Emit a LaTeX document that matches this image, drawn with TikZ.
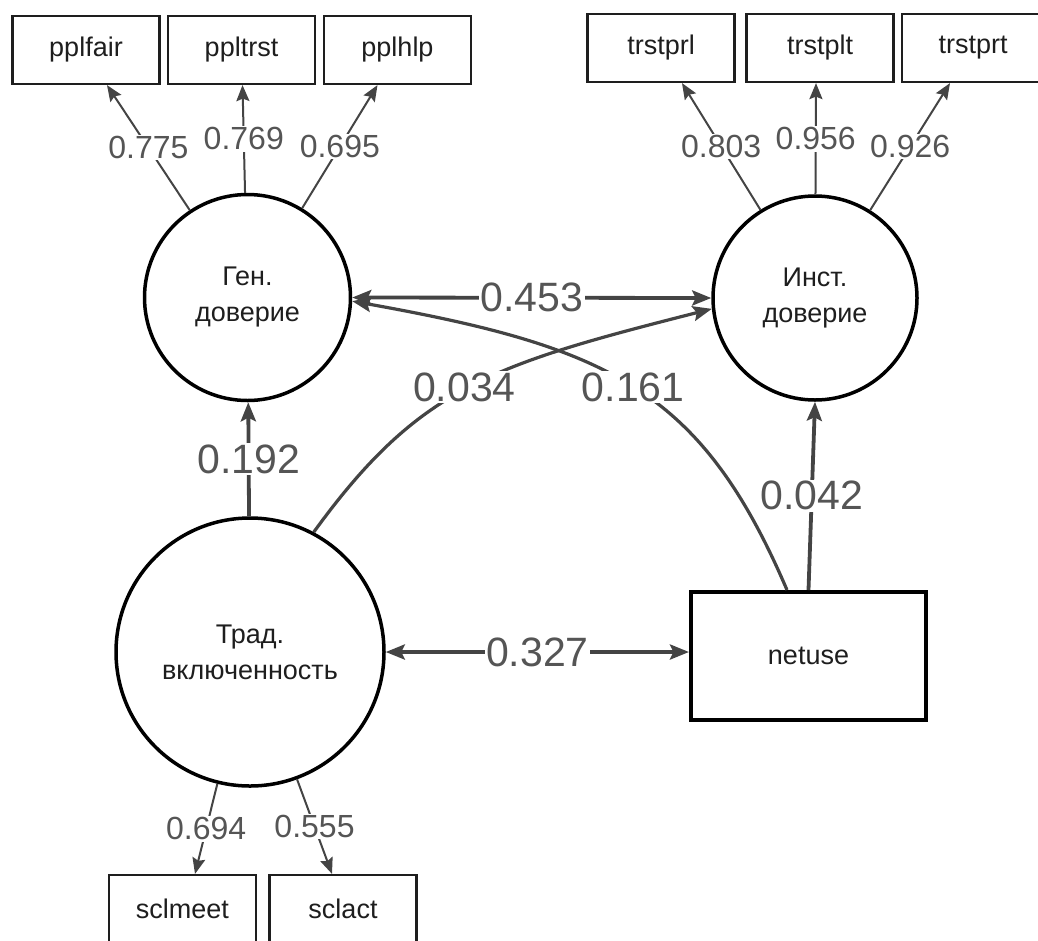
\documentclass[tikz,border=0pt]{standalone}
\usepackage{fontspec}
\setmainfont{Liberation Sans}
\usetikzlibrary{arrows.meta,calc}
\definecolor{lc}{HTML}{444444}
\definecolor{tc}{HTML}{555555}
\definecolor{bc}{HTML}{1e1e1e}
\begin{document}
\begin{tikzpicture}[x=1pt,y=-1pt,
  lat/.style={circle,draw=black,line width=3.5pt,inner sep=0pt,align=center,text=bc,font=\fontsize{27}{36}\selectfont},
  obs/.style={rectangle,draw=bc,line width=2.2pt,minimum width=147pt,minimum height=68pt,inner sep=0pt,text=bc,font=\fontsize{27}{30}\selectfont},
  ld/.style={draw=lc,line width=2pt,-{Stealth[length=16pt,width=13pt,inset=2.5pt]}},
  sp/.style={draw=lc,line width=3.8pt,-{Stealth[length=19pt,width=15pt,inset=3.5pt]}},
  bp/.style={draw=lc,line width=3.8pt,{Stealth[length=19pt,width=15pt,inset=3.5pt]}-{Stealth[length=19pt,width=15pt,inset=3.5pt]}},
  ll/.style={fill=white,text=tc,inner sep=1.5pt,font=\fontsize{32}{32}\selectfont},
  sl/.style={fill=white,text=tc,inner sep=1.5pt,font=\fontsize{41}{41}\selectfont},
]
\clip (0,0) rectangle (1038,940);
% observed indicators
\node[obs] (pplfair) at (86,50) {pplfair};
\node[obs] (ppltrst) at (241.5,50) {ppltrst};
\node[obs] (pplhlp) at (397.5,50) {pplhlp};
\node[obs] (trstprl) at (661,48) {trstprl};
\node[obs] (trstplt) at (820,48) {trstplt};
\node[obs,minimum width=142pt] (trstprt) at (973,48) {trstprt};
\node[obs] (sclmeet) at (182.5,909) {sclmeet};
\node[obs] (sclact) at (343,909) {sclact};
% latent variables
\node[lat,minimum size=206pt] (gen) at (247.5,297.5) {Ген.\\доверие};
\node[lat,minimum size=204pt] (inst) at (815,298) {Инст.\\доверие};
\node[lat,minimum size=268pt] (trad) at (250,652) {Трад.\\включенность};
\node[obs,draw=black,line width=4pt,minimum width=235pt,minimum height=128pt] (netuse) at (808.5,656) {netuse};
% loadings
\draw[ld] (gen) -- node[ll]{0.775} ([xshift=21pt]pplfair.south);
\draw[ld] (gen) -- node[ll]{0.769} ([xshift=1pt]ppltrst.south);
\draw[ld] (gen) -- node[ll]{0.695} ([xshift=-20pt]pplhlp.south);
\draw[ld] (inst) -- node[ll]{0.803} ([xshift=21pt]trstprl.south);
\draw[ld] (inst) -- node[ll]{0.956} ([xshift=-4pt]trstplt.south);
\draw[ld] (inst) -- node[ll]{0.926} ([xshift=-23pt]trstprt.south);
\draw[ld] (trad) -- node[ll]{0.694} ([xshift=12.5pt]sclmeet.north);
\draw[ld] (trad) -- node[ll]{0.555} ([xshift=-11pt]sclact.north);
% structural paths
\draw[sp,line width=3.2pt] ([xshift=-21.5pt]netuse.north) .. controls (701,389) and (608,347) .. (gen.-2) node[sl,pos=0.5]{0.161};
\draw[sp,line width=3.2pt] (trad.62) .. controls (419,387) and (491,365) .. (inst.186) node[sl,pos=0.5,xshift=-5pt]{0.034};
\draw[sp] (trad) -- node[sl]{0.192} (gen);
\draw[sp] (netuse.north) -- node[sl]{0.042} (inst.south);
\draw[bp] (trad.east) -- node[sl]{0.327} (trad.east -| netuse.west);
\draw[bp] (gen.east) -- node[sl]{0.453} (inst.west);
\end{tikzpicture}
\end{document}
